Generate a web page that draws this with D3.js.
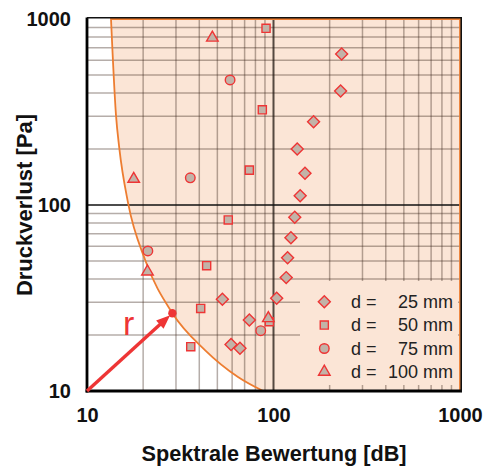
<!DOCTYPE html>
<html>
<head>
<meta charset="utf-8">
<script src="https://cdn.jsdelivr.net/npm/d3@7"></script>
<style>
  body { margin: 0; background: #fff; }
  text { font-family: "Liberation Sans", Arial, sans-serif; }
</style>
</head>
<body>
<svg id="chart" width="490" height="468"></svg>
<script>
// boundary curve of the shaded area
let curve_x = [13.45, 14.3, 14.9, 16.6, 20.5, 28.7, 42.9, 64.5, 88],
  curve_y = [1000, 305, 202, 102.6, 50.6, 26.2, 16.6, 11.9, 10];

let series_names = ["d =   25 mm", "d =   50 mm", "d =   75 mm", "d = 100 mm"];

let d25_x = [232, 229, 164, 134, 147.5, 139, 130, 124, 119, 117, 104, 53.2, 74.2, 59.2, 66.1],
  d25_y = [648, 410, 280, 200, 148, 112, 86, 66.7, 52.1, 40.7, 31.5, 31.1, 24.1, 17.8, 17.0];
let d50_x = [91.2, 87.1, 74.2, 43.8, 57.2, 40.7, 36.0, 95.0],
  d50_y = [891, 325, 154, 47.2, 83.1, 27.8, 17.3, 23.6];
let d75_x = [58.5, 35.8, 21.2, 85.4],
  d75_y = [470, 140, 56.6, 21.1];
let d100_x = [47.0, 17.8, 21.1, 93.8],
  d100_y = [793, 138, 43.8, 24.6];

let r_origin = [10, 10],
  r_point = [28.7, 26.2];

let tick_values = [10, 100, 1000],
  minor_values = [20, 30, 40, 50, 60, 70, 80, 90, 200, 300, 400, 500, 600, 700, 800, 900];

let x_title = "Spektrale Bewertung [dB]",
  y_title = "Druckverlust [Pa]";

let peach = "#fbe5d6",
  orange = "#ed7d31",
  red = "#ee3535",
  marker_fill = "#c2b3a8";

let svg = d3.select("#chart");
let x = d3.scaleLog().domain([10, 1000]).range([87, 460]),
  y = d3.scaleLog().domain([10, 1000]).range([391, 19]);

// shaded area
let curve_pts = curve_x.map((v, i) => [x(v), y(curve_y[i])]);
let curve_line = d3.line().curve(d3.curveMonotoneX);
let area_path = curve_line(curve_pts) +
  "L" + x(1000) + "," + y(10) + "L" + x(1000) + "," + y(1000) + "Z";
svg.append("path")
  .attr("d", area_path)
  .attr("fill", peach)
  .attr("stroke", "none");

// grid
let grid = svg.append("g");
grid.selectAll(".vx").data(minor_values).enter().append("line")
  .attr("x1", d => x(d)).attr("x2", d => x(d))
  .attr("y1", y(1000)).attr("y2", y(10))
  .attr("stroke", "rgba(60,40,30,0.38)").attr("stroke-width", 1.5);
grid.selectAll(".hy").data(minor_values).enter().append("line")
  .attr("x1", x(10)).attr("x2", x(1000))
  .attr("y1", d => y(d)).attr("y2", d => y(d))
  .attr("stroke", "rgba(60,40,30,0.38)").attr("stroke-width", 1.5);
grid.append("line")
  .attr("x1", x(100)).attr("x2", x(100)).attr("y1", y(1000)).attr("y2", y(10))
  .attr("stroke", "rgba(30,20,15,0.75)").attr("stroke-width", 2);
grid.append("line")
  .attr("x1", x(10)).attr("x2", x(1000)).attr("y1", y(100)).attr("y2", y(100))
  .attr("stroke", "#111").attr("stroke-width", 1.3);

// legend background covers the grid
svg.append("rect")
  .attr("x", 300).attr("y", 281).attr("width", 158).attr("height", 104)
  .attr("fill", peach);

// orange outline of the area
svg.append("path")
  .attr("d", area_path)
  .attr("fill", "none")
  .attr("stroke", orange)
  .attr("stroke-width", 1.8);

// frame
svg.append("line").attr("x1", 87).attr("x2", 87).attr("y1", 17.5).attr("y2", 392.5)
  .attr("stroke", "#000").attr("stroke-width", 2.8);
svg.append("line").attr("x1", 85.6).attr("x2", 462).attr("y1", 391).attr("y2", 391)
  .attr("stroke", "#000").attr("stroke-width", 2.8);
svg.append("line").attr("x1", 87).attr("x2", 462).attr("y1", 17.8).attr("y2", 17.8)
  .attr("stroke", "#111").attr("stroke-width", 1.6);
svg.append("line").attr("x1", 461.2).attr("x2", 461.2).attr("y1", 17).attr("y2", 392)
  .attr("stroke", "#111").attr("stroke-width", 1.6);

// axes (labels only)
let x_axis = d3.axisBottom(x).tickValues(tick_values).tickSize(0).tickPadding(17)
  .tickFormat(d3.format("d"));
let y_axis = d3.axisLeft(y).tickValues(tick_values).tickSize(0).tickPadding(16)
  .tickFormat(d3.format("d"));
let gx = svg.append("g").attr("transform", "translate(0,391)").call(x_axis);
let gy = svg.append("g").attr("transform", "translate(87,0)").call(y_axis);
[gx, gy].forEach(g => {
  g.select(".domain").remove();
  g.selectAll("text")
    .attr("font-family", "'Liberation Sans', Arial, sans-serif")
    .attr("font-size", 20).attr("font-weight", "bold").attr("fill", "#111");
});

// titles
svg.append("text")
  .attr("x", 274).attr("y", 461)
  .attr("text-anchor", "middle")
  .attr("font-size", 21.7).attr("font-weight", "bold").attr("fill", "#111")
  .text(x_title);
svg.append("text")
  .attr("transform", "translate(32,205) rotate(-90)")
  .attr("text-anchor", "middle")
  .attr("font-size", 22).attr("font-weight", "bold").attr("fill", "#111")
  .text(y_title);

// r arrow
let ox = x(r_origin[0]), oy = y(r_origin[1]),
  px = x(r_point[0]), py = y(r_point[1]);
let ang = Math.atan2(py - oy, px - ox),
  tip_x = px - 3 * Math.cos(ang), tip_y = py - 3 * Math.sin(ang),
  head_len = 14, head_w = 5.5;
let base_x = tip_x - head_len * Math.cos(ang), base_y = tip_y - head_len * Math.sin(ang);
svg.append("line")
  .attr("x1", ox).attr("y1", oy).attr("x2", base_x + 2 * Math.cos(ang)).attr("y2", base_y + 2 * Math.sin(ang))
  .attr("stroke", red).attr("stroke-width", 3.4);
svg.append("polygon")
  .attr("points", [
    [tip_x, tip_y],
    [base_x - head_w * Math.sin(ang), base_y + head_w * Math.cos(ang)],
    [base_x + head_w * Math.sin(ang), base_y - head_w * Math.cos(ang)]
  ].map(p => p.join(",")).join(" "))
  .attr("fill", red);
svg.append("circle")
  .attr("cx", px).attr("cy", py).attr("r", 4.2)
  .attr("fill", red);
svg.append("text")
  .attr("x", 123).attr("y", 335)
  .attr("font-size", 34).attr("fill", red)
  .text("r");

// markers
let symbols = [
  {sym: d3.symbolSquare, size: 72, rot: 45, xs: d25_x, ys: d25_y},
  {sym: d3.symbolSquare, size: 66, rot: 0, xs: d50_x, ys: d50_y},
  {sym: d3.symbolCircle, size: 72, rot: 0, xs: d75_x, ys: d75_y},
  {sym: d3.symbolTriangle, size: 58, rot: 0, xs: d100_x, ys: d100_y}
];

symbols.forEach(s => {
  let pts = s.xs.map((v, i) => [v, s.ys[i]]);
  svg.append("g").selectAll("path")
    .data(pts).enter()
    .append("path")
    .attr("d", d3.symbol().type(s.sym).size(s.size))
    .attr("transform", d => "translate(" + x(d[0]) + "," + y(d[1]) + ") rotate(" + s.rot + ")")
    .attr("fill", marker_fill)
    .attr("stroke", red)
    .attr("stroke-width", 1.4);
});

// legend
let legend = svg.append("g");
symbols.forEach((s, i) => {
  let ly = 301.7 + i * 23.4;
  legend.append("path")
    .attr("d", d3.symbol().type(s.sym).size(s.size))
    .attr("transform", "translate(324.3," + ly + ") rotate(" + s.rot + ")")
    .attr("fill", marker_fill).attr("stroke", red).attr("stroke-width", 1.4);
  let parts = series_names[i].split("=");
  legend.append("text")
    .attr("x", 351).attr("y", ly + 6)
    .attr("font-size", 18).attr("fill", "#222")
    .text(parts[0].trim() + " =");
  legend.append("text")
    .attr("x", 453).attr("y", ly + 6)
    .attr("text-anchor", "end")
    .attr("font-size", 18).attr("fill", "#222")
    .text(parts[1].trim());
});
</script>
</body>
</html>
